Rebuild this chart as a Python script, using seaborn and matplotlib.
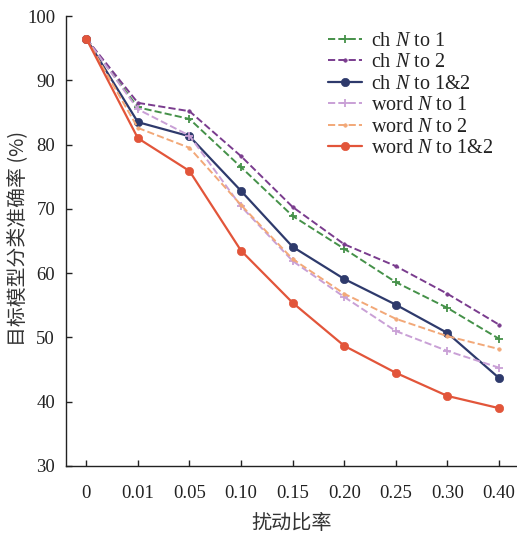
import matplotlib
matplotlib.use("Agg")
import matplotlib.pyplot as plt
import seaborn as sns
import pandas as pd
import numpy as np

ratios = ["0", "0.01", "0.05", "0.10", "0.15", "0.20", "0.25", "0.30", "0.40"]
ch_n_to_1 = [96.5, 85.8, 84.0, 76.5, 68.9, 63.8, 58.6, 54.6, 49.8]
ch_n_to_2 = [96.5, 86.5, 85.2, 78.2, 70.3, 64.5, 61.1, 56.8, 52.0]
ch_n_to_12 = [96.5, 83.5, 81.3, 72.8, 64.1, 59.1, 55.1, 50.7, 43.7]
word_n_to_1 = [96.5, 85.5, 81.4, 70.4, 61.9, 56.3, 51.0, 47.9, 45.3]
word_n_to_2 = [96.5, 82.6, 79.5, 70.6, 62.2, 56.8, 52.9, 50.2, 48.2]
word_n_to_12 = [96.5, 81.0, 75.9, 63.5, 55.4, 48.7, 44.5, 40.9, 39.0]

labels = ["ch $N$ to 1", "ch $N$ to 2", "ch $N$ to 1&2",
          "word $N$ to 1", "word $N$ to 2", "word $N$ to 1&2"]
series = [ch_n_to_1, ch_n_to_2, ch_n_to_12, word_n_to_1, word_n_to_2, word_n_to_12]
colors = ["#459149", "#7a3c8e", "#2e3a6c", "#c9a0d6", "#f2a878", "#e2553a"]
markers = ["+", ".", "o", "+", ".", "o"]
dashes = ["--", "--", "-", "--", "--", "-"]
msizes = [6, 5, 6, 6, 5, 6]
lwidths = [1.4, 1.4, 1.6, 1.4, 1.4, 1.6]

sns.set_style("white")
plt.rcParams['font.family'] = ['Liberation Serif', 'Noto Sans CJK SC']
plt.rcParams['mathtext.fontset'] = 'custom'
plt.rcParams['mathtext.it'] = 'Liberation Serif:italic'
plt.rcParams['mathtext.rm'] = 'Liberation Serif'

fig = plt.figure(figsize=(5.17, 5.36), dpi=100)
ax = fig.add_axes([0.128, 0.1306, 0.872, 0.8394])

xs = np.arange(len(ratios))
for lab, vals, c, m, ls, ms, lw in zip(labels, series, colors, markers, dashes, msizes, lwidths):
    df = pd.DataFrame({"x": xs, "y": vals})
    sns.lineplot(data=df, x="x", y="y", ax=ax, color=c, marker=m, linestyle=ls,
                 markersize=ms, linewidth=lw, label=lab, markeredgecolor=c,
                 markeredgewidth=1.3 if m == "+" else 0.5)

ax.set_xlim(-0.39, 8.35)
ax.set_ylim(30, 100)
ax.set_xticks(xs)
ax.set_xticklabels(ratios)
ax.set_yticks([30, 40, 50, 60, 70, 80, 90, 100])
ax.tick_params(axis='both', direction='in', length=4, width=1, labelsize=13.5,
               colors='#222222', bottom=True, left=True)
ax.tick_params(axis='y', pad=8)
ax.tick_params(axis='x', pad=14)
for s in ["top", "right"]:
    ax.spines[s].set_visible(False)
for s in ["left", "bottom"]:
    ax.spines[s].set_color("#222222")
    ax.spines[s].set_linewidth(1.0)

ax.set_xlabel("扰动比率", fontsize=14.5, color='#333333', fontweight='light',
              family=['Noto Sans CJK SC', 'Liberation Serif'])
ax.set_ylabel("目标模型分类准确率 (%)", fontsize=14.3, color='#333333', fontweight='light',
              family=['Noto Sans CJK SC', 'Liberation Serif'])
ax.xaxis.set_label_coords(0.5, -0.105)
ax.yaxis.set_label_coords(-0.085, 0.505)

leg = ax.legend(loc='upper left', bbox_to_anchor=(0.581, 0.965), frameon=False,
                fontsize=14.5, handlelength=1.7, labelspacing=0.12,
                borderaxespad=0.0, borderpad=0.0, handletextpad=0.43)
for t in leg.get_texts():
    t.set_color('#222222')

fig.savefig("out.png", dpi=100)
